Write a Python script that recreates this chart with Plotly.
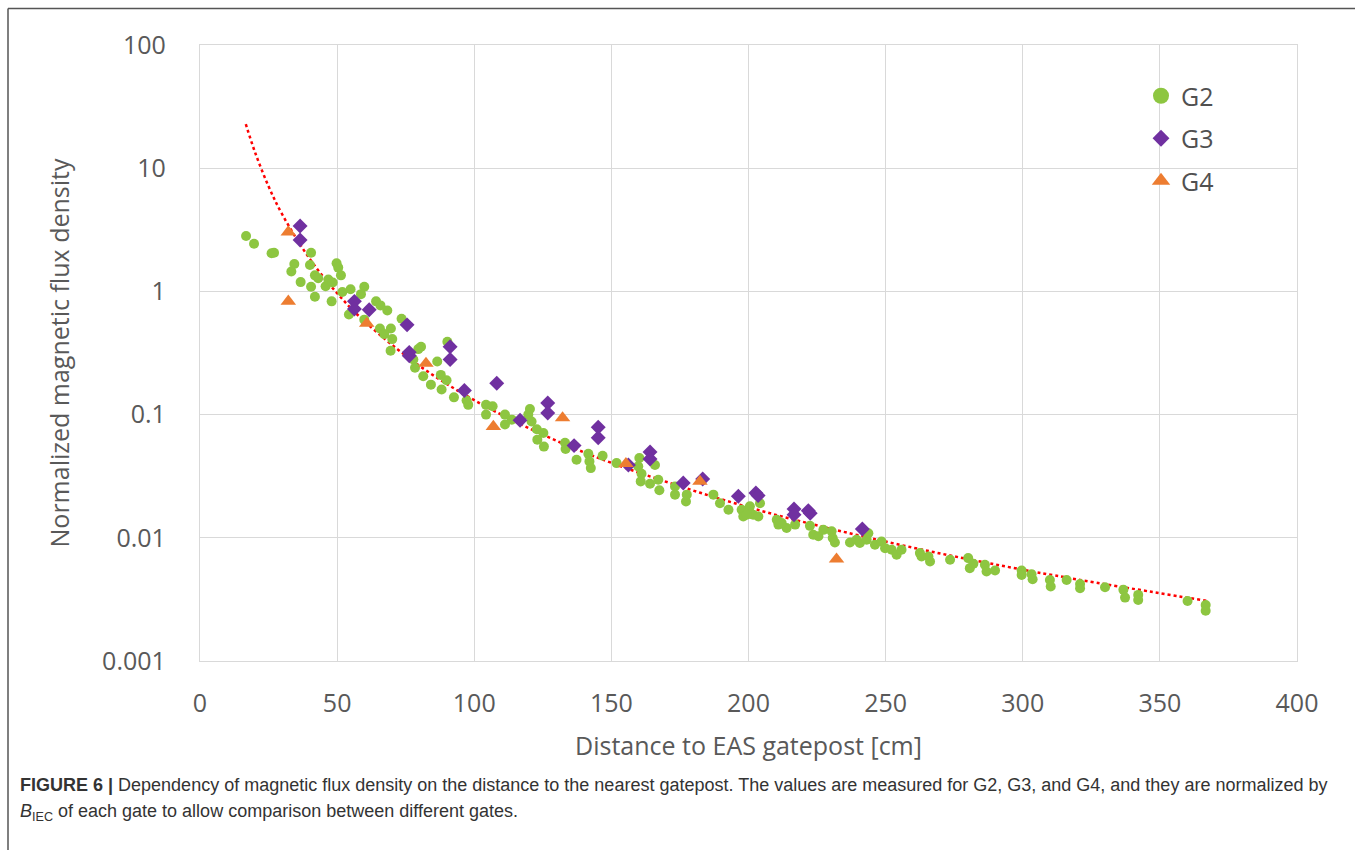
import plotly.graph_objects as go

# ---------------- data ----------------
g2_x = [16.8, 19.7, 26.1, 27.0, 34.4, 33.3, 36.7, 40.5, 40.1, 41.9, 43.1, 40.5, 41.9, 45.8,
        46.8, 48.4, 49.8, 50.4, 51.4, 48.0, 51.9, 54.9, 59.9, 58.7, 54.3, 59.9, 64.2, 65.8,
        68.3, 69.6, 65.6, 67.2, 70.1, 69.5, 73.5, 80.6, 79.6, 77.8, 78.4, 81.4, 84.2, 86.5,
        87.8, 89.9, 88.1, 90.2, 92.6, 97.8, 97.2, 104.3, 106.7, 104.3,
        111.2, 111.2, 113.7, 120.3, 119.7, 120.9, 122.8, 125.2, 123.0, 125.4, 133.1, 133.3,
        137.3, 141.6, 142.0, 142.5, 146.8, 151.9, 160.2, 159.8, 161.0, 160.7, 164.1, 165.9,
        167.1, 167.5, 173.2, 173.2, 177.2, 177.5, 187.2, 189.6, 192.7, 197.5, 198.1,
        200.5, 201.7, 203.6, 204.2, 199.3, 210.3, 210.9, 213.9, 217.0, 212.1, 222.4, 223.6,
        225.5, 227.3, 230.3, 230.7, 231.5, 237.0, 239.4, 240.6, 243.1, 243.7, 246.1, 248.5,
        249.8, 252.2, 254.0, 255.8, 262.5, 263.1, 266.2, 265.6, 273.5, 280.1, 280.7, 282.0,
        286.2, 286.8, 289.9, 299.6, 299.6, 303.2, 303.6, 309.9, 310.2, 316.0, 320.9, 320.9,
        330.0, 336.7, 337.3, 342.1, 342.1, 360.1, 366.7, 366.7]
g2_y = [2.82, 2.44, 2.04, 2.06, 1.67, 1.45, 1.19, 2.06, 1.64, 1.35, 1.28, 1.09, 0.905, 1.10,
        1.25, 1.18, 1.69, 1.56, 1.35, 0.83, 0.99, 1.04, 1.09, 0.95, 0.65, 0.59, 0.83, 0.77,
        0.70, 0.50, 0.50, 0.45, 0.41, 0.33, 0.60, 0.355, 0.34, 0.28, 0.24, 0.205, 0.175, 0.27,
        0.21, 0.19, 0.16, 0.39, 0.138, 0.12, 0.13, 0.12, 0.117, 0.10,
        0.10, 0.083, 0.091, 0.111, 0.10, 0.088, 0.076, 0.071, 0.0626, 0.055, 0.059, 0.0526,
        0.043, 0.048, 0.0417, 0.0368, 0.0464, 0.0404, 0.0444, 0.038, 0.0331, 0.0287, 0.0275, 0.039,
        0.0296, 0.0243, 0.0261, 0.0224, 0.0197, 0.0224, 0.0224, 0.0191, 0.0169, 0.0169, 0.0149,
        0.018, 0.0154, 0.0149, 0.0191, 0.0154, 0.0140, 0.0128, 0.0120, 0.0128, 0.0132, 0.0125, 0.0106,
        0.0103, 0.0116, 0.0113, 0.00995, 0.00917, 0.00917, 0.00964, 0.00906, 0.00964, 0.0109, 0.00877, 0.00933,
        0.00824, 0.00799, 0.00728, 0.00799, 0.00751, 0.00705, 0.00642, 0.00705, 0.00663, 0.00684, 0.00567, 0.00615,
        0.00604, 0.00533, 0.00543, 0.00543, 0.0050, 0.00506, 0.00461, 0.00455, 0.00402, 0.00455, 0.00422, 0.00389,
        0.00397, 0.00378, 0.00327, 0.00344, 0.00313, 0.00307, 0.00285, 0.00256]

g3_x = [36.5, 36.5, 56.3, 56.3, 61.7, 75.5, 76.3, 76.3, 91.2, 91.2, 96.4, 108.2,
        126.8, 126.8, 116.7, 145.2, 145.2, 136.4, 164.1, 164.1, 156.2, 176.2, 183.3, 196.3,
        202.7, 203.5, 216.6, 216.6, 221.8, 222.5, 241.5]
g3_y = [3.40, 2.61, 0.83, 0.72, 0.71, 0.535, 0.32, 0.30, 0.355, 0.28, 0.157, 0.18,
        0.124, 0.103, 0.090, 0.079, 0.065, 0.056, 0.0497, 0.0436, 0.039, 0.0278, 0.030, 0.0217,
        0.0231, 0.0220, 0.0171, 0.0154, 0.0166, 0.0158, 0.0118]

g4_x = [32.2, 32.2, 60.8, 82.4, 106.96, 132.2, 155.3, 182.3, 232.1]
g4_y = [3.03, 0.83, 0.55, 0.26, 0.080, 0.094, 0.040, 0.0287, 0.00671]

# dotted trendline, points
trend_x = [16.7, 20, 25, 30, 40, 50, 60, 80, 100, 125, 150, 200, 250, 300, 367]
trend_y = [22.8, 13.6, 7.13, 4.21, 1.84, 0.966, 0.571, 0.249, 0.131, 0.0688, 0.0406,
           0.0177, 0.00932, 0.00551, 0.00308]

series_names = ["G2", "G3", "G4"]
x_ticks = [0, 50, 100, 150, 200, 250, 300, 350, 400]
y_ticks = [0.001, 0.01, 0.1, 1, 10, 100]
y_tick_text = ["0.001", "0.01", "0.1", "1", "10", "100"]

# ---------------- styles ----------------
GREEN = "#8DC641"
PURPLE = "#7030A0"
ORANGE = "#ED7D31"
TXT = "#595959"
GRID = "#D9D9D9"

fig = go.Figure()
fig.add_trace(go.Scatter(x=trend_x, y=trend_y, mode="lines", showlegend=False,
                         line=dict(color="#FF0000", width=2.5, dash="dot", shape="spline"),
                         hoverinfo="skip"))
fig.add_trace(go.Scatter(x=g2_x, y=g2_y, mode="markers", name="G2", showlegend=False,
                         marker=dict(color=GREEN, size=10, symbol="circle")))
fig.add_trace(go.Scatter(x=g3_x, y=g3_y, mode="markers", name="G3", showlegend=False,
                         marker=dict(color=PURPLE, size=11.5, symbol="diamond")))
fig.add_trace(go.Scatter(x=g4_x, y=g4_y, mode="markers", name="G4", showlegend=False,
                         marker=dict(color=ORANGE, size=13.5, symbol="triangle-up")))

# legend entries (larger symbols as in the reference legend)
for nm, col, sym, sz in [(series_names[0], GREEN, "circle", 16),
                         (series_names[1], PURPLE, "diamond", 13),
                         (series_names[2], ORANGE, "triangle-up", 16)]:
    fig.add_trace(go.Scatter(x=[None], y=[None], mode="markers", name=nm, legendgroup=nm,
                             marker=dict(color=col, size=sz, symbol=sym)))

W, H = 1355, 850
L, R, T, B = 200, 1355 - 1297, 45, 850 - 661
pw, ph = W - L - R, H - T - B

def px2x(px):
    return (px - L) / pw

def py2y(py):
    return (H - B - py) / ph

fig.update_layout(
    width=W, height=H,
    margin=dict(l=L, r=R, t=T, b=B),
    paper_bgcolor="white", plot_bgcolor="white",
    font=dict(family="Open Sans", color=TXT),
    legend=dict(x=px2x(1141), y=py2y(73), xanchor="left", yanchor="top",
                font=dict(size=25, color="#505050"), tracegroupgap=7,
                bgcolor="rgba(0,0,0,0)", itemwidth=30),
    xaxis=dict(range=[0, 400], tickvals=x_ticks, ticktext=[str(v) for v in x_ticks],
               showgrid=True, gridcolor=GRID, gridwidth=1.3, zeroline=False,
               showline=True, linecolor=GRID, linewidth=1.3, mirror=True,
               tickfont=dict(size=25, color=TXT), ticks="", ticklabelstandoff=20,
               title=dict(text="Distance to EAS gatepost [cm]", font=dict(size=25, color=TXT),
                          standoff=19)),
    yaxis=dict(type="log", range=[-3, 2], tickvals=y_ticks, ticktext=y_tick_text,
               showgrid=True, gridcolor=GRID, gridwidth=1.3, zeroline=False,
               showline=True, linecolor=GRID, linewidth=1.3, mirror=True,
               tickfont=dict(size=25, color=TXT), ticks="", ticklabelstandoff=28,
               title=dict(text="Normalized magnetic flux density", font=dict(size=25, color=TXT),
                          standoff=25)),
)

# frame lines around the figure panel
fig.add_shape(type="line", xref="paper", yref="paper", x0=px2x(8), x1=px2x(1355),
              y0=py2y(8.5), y1=py2y(8.5), line=dict(color="#555555", width=1.5))
fig.add_shape(type="line", xref="paper", yref="paper", x0=px2x(8), x1=px2x(8),
              y0=py2y(8.5), y1=py2y(850), line=dict(color="#555555", width=1.5))

cap_font = dict(family="Liberation Sans", size=18, color="#333333")
fig.add_annotation(xref="paper", yref="paper", x=px2x(18), y=py2y(785), xanchor="left",
                   yanchor="middle", showarrow=False, font=cap_font,
                   text="<b>FIGURE 6 |</b> Dependency of magnetic flux density on the distance to the nearest "
                        "gatepost. The values are measured for G2, G3, and G4, and they are normalized by")
fig.add_annotation(xref="paper", yref="paper", x=px2x(18), y=py2y(812), xanchor="left",
                   yanchor="middle", showarrow=False, font=cap_font,
                   text="<i>B</i><sub>IEC</sub> of each gate to allow comparison between different gates.")

fig.write_html("out.html", config={"displayModeBar": False},
               post_script="document.body.style.margin='0';document.body.style.overflow='hidden';")
